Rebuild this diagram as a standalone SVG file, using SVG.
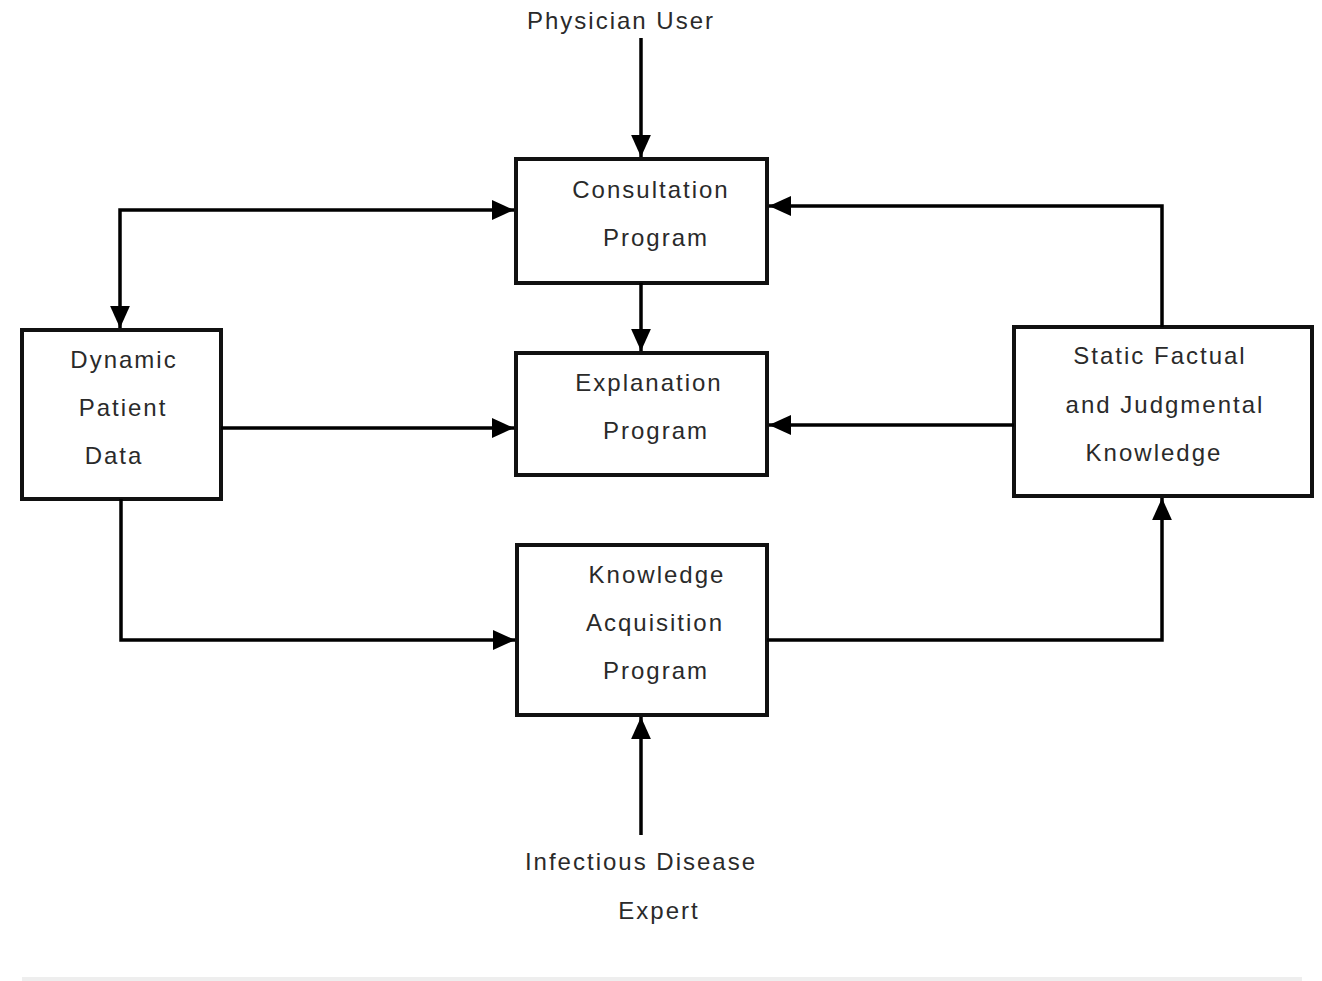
<svg xmlns="http://www.w3.org/2000/svg" width="1322" height="981" viewBox="0 0 1322 981">
<defs>
<style>
.box{fill:#fff;stroke:#111;stroke-width:4}
.t{font-family:"Liberation Sans",Arial,sans-serif;font-size:24px;letter-spacing:2px;fill:#2a2a2a;text-anchor:middle}
.c{fill:none;stroke:#000;stroke-width:3.5}
</style>
<marker id="a" viewBox="0 0 20 20" refX="20" refY="10" markerWidth="22" markerHeight="22" markerUnits="userSpaceOnUse" orient="auto-start-reverse"><path d="M0,1 L20,10 L0,19 z" fill="#000"/></marker>
</defs>
<rect width="1322" height="981" fill="#fff"/>
<g id="physician"><text class="t" x="621" y="29">Physician User</text></g>
<g id="expert"><text class="t" x="641" y="870">Infectious Disease</text><text class="t" x="659" y="919">Expert</text></g>
<g id="consultation"><rect class="box" x="516" y="159" width="251" height="124"/><text class="t" x="651" y="198">Consultation</text><text class="t" x="656" y="246">Program</text></g>
<g id="explanation"><rect class="box" x="516" y="353" width="251" height="122"/><text class="t" x="649" y="391">Explanation</text><text class="t" x="656" y="439">Program</text></g>
<g id="acquisition"><rect class="box" x="517" y="545" width="250" height="170"/><text class="t" x="657" y="583">Knowledge</text><text class="t" x="655" y="631">Acquisition</text><text class="t" x="656" y="679">Program</text></g>
<g id="patient"><rect class="box" x="22" y="330" width="199" height="169"/><text class="t" x="124" y="368">Dynamic</text><text class="t" x="123" y="416">Patient</text><text class="t" x="114" y="464">Data</text></g>
<g id="knowledge"><rect class="box" x="1014" y="327" width="298" height="169"/><text class="t" x="1160" y="364">Static Factual</text><text class="t" x="1165" y="413">and Judgmental</text><text class="t" x="1154" y="461">Knowledge</text></g>
<g id="connectors">
<path class="c" d="M641,38 V157" marker-end="url(#a)"/>
<path class="c" d="M641,283 V351" marker-end="url(#a)"/>
<path class="c" d="M514,210 H120 V328" marker-start="url(#a)" marker-end="url(#a)"/>
<path class="c" d="M221,428 H514" marker-end="url(#a)"/>
<path class="c" d="M121,499 V640 H515" marker-end="url(#a)"/>
<path class="c" d="M767,640 H1162 V498" marker-end="url(#a)"/>
<path class="c" d="M1162,327 V206 H769" marker-end="url(#a)"/>
<path class="c" d="M1014,425 H769" marker-end="url(#a)"/>
<path class="c" d="M641,835 V717" marker-end="url(#a)"/>
</g>
<line x1="22" y1="979" x2="1302" y2="979" stroke="#eee" stroke-width="4"/>
</svg>
